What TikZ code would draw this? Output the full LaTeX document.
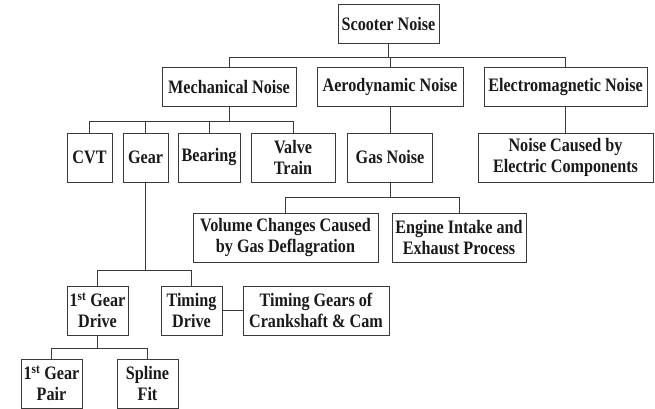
\documentclass[tikz,border=0pt]{standalone}
\usepackage{fontspec}
\setmainfont{Liberation Serif}[FakeStretch=0.85]
\usepackage{tikz}
\usetikzlibrary{positioning, calc}
\definecolor{FigText}{HTML}{1A1A1A}
\definecolor{FigLine}{HTML}{3A3A3A}

\begin{document}
\begin{tikzpicture}[
x=1pt, y=-1pt,
font=\fontsize{19}{21}\selectfont\bfseries,
catbox/.style={
draw=FigLine,
line width=1pt,
fill=white,
inner sep=2pt,
minimum height=39pt,
align=center
},
tallbox/.style={
catbox,
minimum height=49pt
},
link/.style={
draw=FigLine,
line width=0.9pt
},
every node/.style={text=FigText}
]
\useasboundingbox (0,0) rectangle (655,409);

% Levels 1 and 2
\node[catbox, minimum width=101pt] (scooter) at (388.5,24) {Scooter Noise};
\node[catbox, minimum width=134pt] (mech) at (229,87) {Mechanical Noise};
\node[catbox, minimum width=146pt] (aero) at (390,87) {Aerodynamic Noise};
\node[catbox, minimum width=163pt] (elec) at (565.5,87) {Electromagnetic Noise};

% Level 3
\node[tallbox, minimum width=45pt] (cvt) at (89.5,157.5) {CVT};
\node[tallbox, minimum width=45pt] (gear) at (145.5,157.5) {Gear};
\node[tallbox, minimum width=62pt] (bearing) at (209,157.5) {Bearing};
\node[tallbox, minimum width=84pt] (valve) at (293,157.5) {Valve\\Train};
\node[tallbox, minimum width=85pt] (gas) at (390,157.5) {Gas Noise};
\node[tallbox, minimum width=175pt] (ecomp) at (565.5,157.5) {Noise Caused by\\Electric Components};

% Gas noise sources
\node[tallbox, minimum width=185pt] (volume) at (285.5,237.5) {Volume Changes Caused\\by Gas Deflagration};
\node[tallbox, minimum width=134pt] (intake) at (459,237.5) {Engine Intake and\\Exhaust Process};

% Gear branch
\node[tallbox, minimum width=61pt] (gdrive) at (97.5,310.5) {1\textsuperscript{st} Gear\\Drive};
\node[tallbox, minimum width=61pt] (tdrive) at (191.5,310.5) {Timing\\Drive};
\node[tallbox, minimum width=146pt] (tgears) at (316,310.5) {Timing Gears of\\Crankshaft \& Cam};
\node[tallbox, minimum width=61pt] (gpair) at (51.5,383.5) {1\textsuperscript{st} Gear\\Pair};
\node[tallbox, minimum width=61pt] (spline) at (147.5,383.5) {Spline\\Fit};

% Bus heights
\coordinate (b1) at (0,57);
\coordinate (b2) at (0,121);
\coordinate (b3) at (0,197);
\coordinate (b4) at (0,270);
\coordinate (b5) at (0,348);

% Connectors
\foreach \c in {mech, aero, elec}
  \draw[link] (scooter.south) -- (scooter.south |- b1) -| (\c.north);
\foreach \c in {cvt, gear, bearing, valve}
  \draw[link] (mech.south) -- (mech.south |- b2) -| (\c.north);
\draw[link] (aero.south) -- (gas.north);
\draw[link] (elec.south) -- (ecomp.north);
\foreach \c in {volume, intake}
  \draw[link] (gas.south) -- (gas.south |- b3) -| (\c.north);
\foreach \c in {gdrive, tdrive}
  \draw[link] (gear.south) -- (gear.south |- b4) -| (\c.north);
\draw[link] (tdrive.east) -- (tgears.west);
\foreach \c in {gpair, spline}
  \draw[link] (gdrive.south) -- (gdrive.south |- b5) -| (\c.north);

\end{tikzpicture}
\end{document}
